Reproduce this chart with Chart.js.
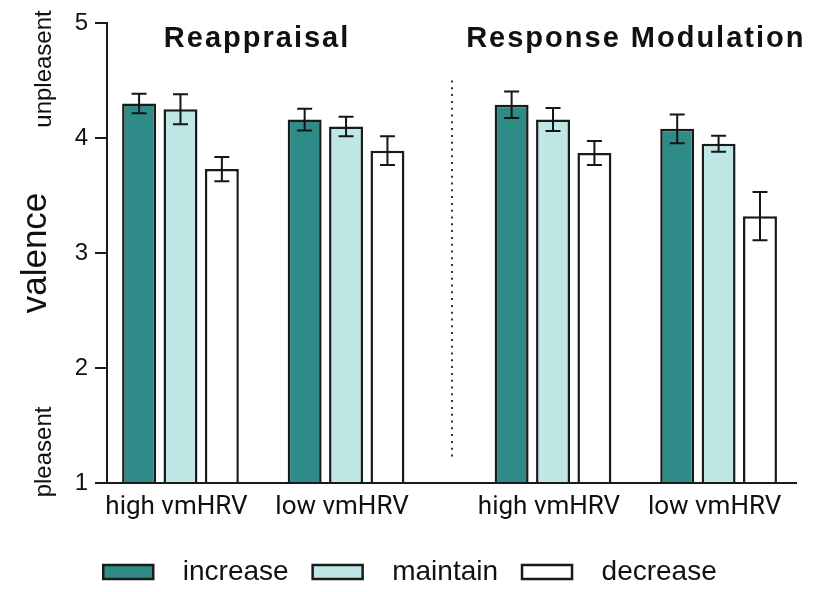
<!DOCTYPE html>
<html>
<head>
<meta charset="utf-8">
<script src="https://cdn.jsdelivr.net/npm/chart.js@4.4.1/dist/chart.umd.min.js"></script>
<style>
  html, body { margin: 0; padding: 0; background: #fff; }
</style>
</head>
<body>
<canvas id="valence-chart" width="836" height="592"></canvas>
<script>

var panels = ["Reappraisal", "Response Modulation"];
var groups = ["high vmHRV", "low vmHRV"];
var conditions = ["increase", "maintain", "decrease"];

// order: Reappraisal high, Reappraisal low, Response Modulation high, Response Modulation low
var increaseMean = [4.30, 4.16, 4.29, 4.08];
var increaseErr  = [0.085, 0.095, 0.115, 0.125];
var maintainMean = [4.25, 4.10, 4.16, 3.95];
var maintainErr  = [0.13, 0.085, 0.10, 0.07];
var decreaseMean = [3.73, 3.89, 3.87, 3.32];
var decreaseErr  = [0.105, 0.125, 0.105, 0.21];

var yTicks = [1, 2, 3, 4, 5];


var ValenceChart = function(){

	// x slot of each group: groups 4 slots apart, panels an extra slot apart
	var groupX = [];
	var groupLabels = [];
	panels.forEach(function(p, pi){
		groups.forEach(function(g, gi){
			groupX.push(1 + pi * 9 + gi * 4);
			groupLabels.push(g);
		});
	});

	function points(means){
		return means.map(function(m, i){ return { x: groupX[i], y: m }; });
	}

	var extras = {
		id: 'extras',
		afterLayout: function(chart){
			// legend sits a bit right of and lower than the default spot
			var lg = chart.legend;
			if (lg) {
				lg.left += 12; lg.right += 12;
				lg.top += 4; lg.bottom += 4;
			}
		},
		afterDatasetsDraw: function(chart){
			var ctx = chart.ctx;
			var xs = chart.scales.x, ys = chart.scales.y;

			// error bars
			ctx.save();
			ctx.strokeStyle = '#151515';
			ctx.lineWidth = 2;
			chart.data.datasets.forEach(function(ds, i){
				chart.getDatasetMeta(i).data.forEach(function(bar, j){
					var m = ds.data[j].y, e = ds.errors[j];
					var top = ys.getPixelForValue(m + e);
					var bot = ys.getPixelForValue(m - e);
					ctx.beginPath();
					ctx.moveTo(bar.x, top); ctx.lineTo(bar.x, bot);
					ctx.moveTo(bar.x - 7.5, top); ctx.lineTo(bar.x + 7.5, top);
					ctx.moveTo(bar.x - 7.5, bot); ctx.lineTo(bar.x + 7.5, bot);
					ctx.stroke();
				});
			});
			ctx.restore();

			// dotted separator between the two panels
			var sepX = xs.getPixelForValue((groupX[1] + groupX[2]) / 2 + 0.06);
			ctx.save();
			ctx.strokeStyle = '#333';
			ctx.lineWidth = 2;
			ctx.setLineDash([2, 4.8]);
			ctx.beginPath();
			ctx.moveTo(sepX, ys.getPixelForValue(4.5));
			ctx.lineTo(sepX, ys.getPixelForValue(1.2));
			ctx.stroke();
			ctx.restore();

			// panel titles
			ctx.save();
			ctx.fillStyle = '#111';
			ctx.font = 'bold 29px "Liberation Sans", Arial, sans-serif';
			ctx.letterSpacing = '2px';
			ctx.textAlign = 'center';
			ctx.textBaseline = 'alphabetic';
			panels.forEach(function(p, pi){
				var cx = xs.getPixelForValue((groupX[pi * 2] + groupX[pi * 2 + 1]) / 2 - (pi === 0 ? 0.15 : 0));
				ctx.fillText(p, cx, chart.chartArea.top + 24);
			});
			ctx.restore();

			// valence end labels
			ctx.save();
			ctx.fillStyle = '#111';
			ctx.font = '24px "Liberation Sans", Arial, sans-serif';
			ctx.textAlign = 'center';
			ctx.textBaseline = 'middle';
			[["unpleasent", 4.6], ["pleasent", 1.27]].forEach(function(t){
				ctx.save();
				ctx.translate(44, ys.getPixelForValue(t[1]));
				ctx.rotate(-Math.PI / 2);
				ctx.fillText(t[0], 0, 0);
				ctx.restore();
			});
			ctx.restore();
		}
	};

	var init = function(){
		var data = {
			datasets: [
			{
				label: conditions[0],
				data: points(increaseMean),
				errors: increaseErr,
				backgroundColor: "#2f8b87",
				borderColor: "#1a1a1a",
				borderWidth: 2.5
			},
			{
				label: conditions[1],
				data: points(maintainMean),
				errors: maintainErr,
				backgroundColor: "#bfe7e5",
				borderColor: "#1a1a1a",
				borderWidth: 2.5
			},
			{
				label: conditions[2],
				data: points(decreaseMean),
				errors: decreaseErr,
				backgroundColor: "#ffffff",
				borderColor: "#1a1a1a",
				borderWidth: 2.5
			}]
		};

		var ctx = document.getElementById("valence-chart").getContext("2d");

		new Chart(ctx, {
			type: 'bar',
			data: data,
			plugins: [extras],
			options: {
				responsive: false,
				animation: false,
				base: 1,
				categoryPercentage: 0.75,
				barPercentage: 0.82,
				layout: { padding: { top: 23, right: 40, left: 0, bottom: 0 } },
				plugins: {
					tooltip: { enabled: false },
					legend: {
						position: 'bottom',
						labels: {
							boxWidth: 50,
							boxHeight: 14,
							padding: 24,
							color: '#111',
							font: { family: '"Liberation Sans", Arial, sans-serif', size: 28 },
							generateLabels: function(chart){
								var items = Chart.defaults.plugins.legend.labels.generateLabels(chart);
								items.forEach(function(it){ it.text = '  ' + it.text; });
								return items;
							}
						}
					}
				},
				scales: {
					x: {
						type: 'linear',
						min: -0.775,
						max: 15.87,
						offset: false,
						afterBuildTicks: function(s){
							s.ticks = groupX.map(function(v){ return { value: v }; });
						},
						afterFit: function(s){ s.height = 47; },
						grid: { display: false, drawTicks: false, offset: false },
						border: { display: true, color: '#1a1a1a', width: 2 },
						ticks: {
							autoSkip: false,
							maxRotation: 0,
							padding: 9,
							labelOffset: -4,
							color: '#111',
							font: { family: 'Roboto', size: 26 },
							callback: function(v){
								var i = groupX.indexOf(v);
								return i >= 0 ? groupLabels[i] : '';
							}
						}
					},
					y: {
						min: 1,
						max: 5,
						afterBuildTicks: function(s){
							s.ticks = yTicks.map(function(v){ return { value: v }; });
						},
						afterFit: function(s){ s.width = 107; },
						grid: {
							drawOnChartArea: false,
							drawTicks: true,
							tickLength: 12,
							color: '#1a1a1a',
							lineWidth: 2
						},
						border: { display: true, color: '#1a1a1a', width: 2 },
						ticks: {
							padding: 7,
							color: '#111',
							font: { family: '"Liberation Sans", Arial, sans-serif', size: 24 }
						},
						title: {
							display: true,
							text: 'valence',
							color: '#111',
							padding: { top: 15, bottom: 0 },
							font: { family: '"Liberation Sans", Arial, sans-serif', size: 35 }
						}
					}
				}
			}
		});
	};

	return {
		init: init
	};
}();

ValenceChart.init();
</script>
</body>
</html>
